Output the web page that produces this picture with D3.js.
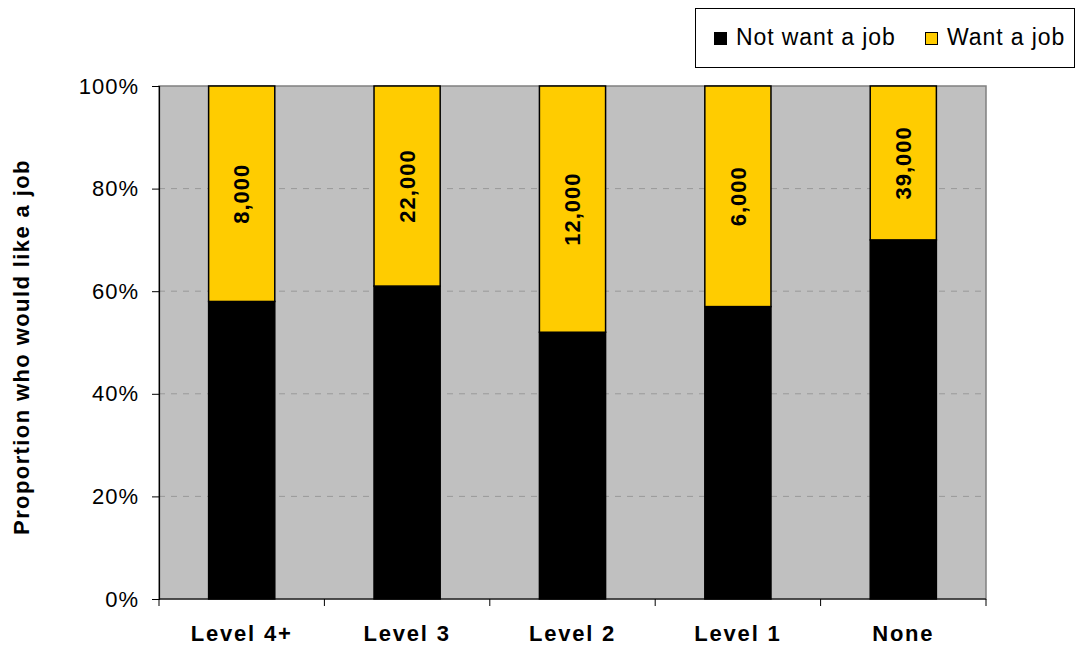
<!DOCTYPE html>
<html><head><meta charset="utf-8">
<script src="https://cdn.jsdelivr.net/npm/d3@7"></script>
<style>body{margin:0;background:#fff;} text{font-family:"Liberation Sans",Arial,sans-serif;}</style>
</head><body><svg id="c" width="1076" height="648"></svg>
<script>
const categories = ["Level 4+", "Level 3", "Level 2", "Level 1", "None"];
const notWant = [0.58, 0.61, 0.52, 0.57, 0.70];
const want = [0.42, 0.39, 0.48, 0.43, 0.30];
const wantLabels = ["8,000", "22,000", "12,000", "6,000", "39,000"];
const yTicks = [0, 0.2, 0.4, 0.6, 0.8, 1.0];
const seriesNames = ["Not want a job", "Want a job"];
const colors = ["#000000", "#ffcc00"];

const svg = d3.select("#c");
const L = 159, R = 986, T = 86, B = 599;
const x = d3.scaleBand().domain(categories).range([L, R]).paddingInner(0.6).paddingOuter(0.3);
const y = d3.scaleLinear().domain([0, 1]).range([B, T]);

svg.append("rect").attr("x", L).attr("y", T).attr("width", R - L).attr("height", B - T)
  .attr("fill", "#c0c0c0").attr("stroke", "#808080").attr("stroke-width", 1.5);

svg.append("g").selectAll("line").data(yTicks.filter(d => d > 0 && d < 1)).join("line")
  .attr("x1", L).attr("x2", R).attr("y1", d => y(d)).attr("y2", d => y(d))
  .attr("stroke", "#999").attr("stroke-dasharray", "6,6").attr("stroke-width", 1);

// bars
const g = svg.append("g");
categories.forEach((c, i) => {
  g.append("rect").attr("x", x(c)).attr("width", x.bandwidth())
    .attr("y", y(notWant[i])).attr("height", y(0) - y(notWant[i]))
    .attr("fill", colors[0]).attr("stroke", "#000").attr("stroke-width", 1.5);
  g.append("rect").attr("x", x(c)).attr("width", x.bandwidth())
    .attr("y", y(notWant[i] + want[i])).attr("height", y(notWant[i]) - y(notWant[i] + want[i]))
    .attr("fill", colors[1]).attr("stroke", "#000").attr("stroke-width", 1.5);
  const cy = (y(notWant[i]) + y(notWant[i] + want[i])) / 2;
  const cx = x(c) + x.bandwidth() / 2;
  g.append("text").attr("transform", `translate(${cx},${cy}) rotate(-90)`)
    .attr("text-anchor", "middle").attr("dy", "0.35em")
    .attr("font-size", 22).attr("letter-spacing", 1).attr("font-weight", "bold").text(wantLabels[i]);
});

// y axis
const yAxis = d3.axisLeft(y).tickValues(yTicks).tickFormat(d3.format(".0%")).tickSize(7).tickPadding(13);
const ya = svg.append("g").attr("transform", `translate(${L},0)`).call(yAxis);
ya.select(".domain").attr("stroke", "#000").attr("stroke-width", 1.2);
ya.selectAll("line").attr("stroke", "#000");
ya.selectAll("text").attr("font-size", 22).attr("letter-spacing", 1).attr("fill", "#000")
  .attr("font-family", "Liberation Sans, Arial");

// x axis
const xa = svg.append("g").attr("transform", `translate(0,${B})`);
xa.append("line").attr("x1", L).attr("x2", R).attr("stroke", "#000").attr("stroke-width", 1.2);
const bounds = categories.map((c, i) => L + i * (R - L) / categories.length).concat([R]);
xa.selectAll("line.t").data(bounds).join("line").attr("class", "t")
  .attr("x1", d => d).attr("x2", d => d).attr("y1", 0).attr("y2", 7).attr("stroke", "#000");
xa.selectAll("text").data(categories).join("text")
  .attr("x", d => x(d) + x.bandwidth() / 2).attr("y", 42).attr("text-anchor", "middle")
  .attr("font-size", 22).attr("letter-spacing", 1.8).attr("font-weight", "bold").text(d => d);

// y title
svg.append("text").attr("transform", `translate(29,347) rotate(-90)`)
  .attr("text-anchor", "middle").attr("font-size", 22).attr("letter-spacing", 1.4).attr("font-weight", "bold")
  .text("Proportion who would like a job");

// legend
const lg = svg.append("g");
lg.append("rect").attr("x", 695.5).attr("y", 8.5).attr("width", 379).attr("height", 59)
  .attr("fill", "#fff").attr("stroke", "#000").attr("stroke-width", 1);
const lx = [714, 925];
seriesNames.forEach((s, i) => {
  lg.append("rect").attr("x", lx[i] + 0.5).attr("y", 32.5).attr("width", 12).attr("height", 12)
    .attr("fill", colors[i]).attr("stroke", "#000").attr("stroke-width", 1);
  lg.append("text").attr("x", lx[i] + 22).attr("y", 45).attr("font-size", 23).attr("letter-spacing", 0.9).text(s);
});
</script></body></html>
